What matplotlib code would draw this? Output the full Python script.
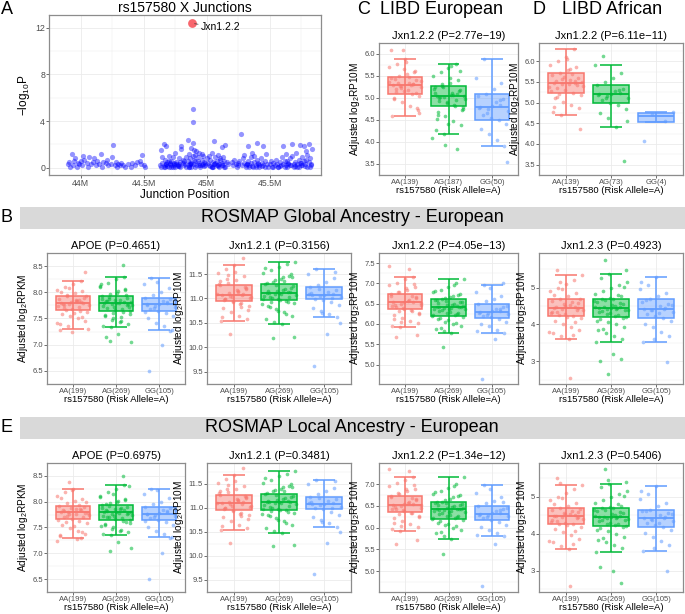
import matplotlib
matplotlib.use('Agg')
import matplotlib.pyplot as plt
import numpy as np
from matplotlib.patches import Rectangle
from matplotlib.colors import to_rgba

plt.rcParams['font.family'] = ['Liberation Sans', 'DejaVu Sans']
plt.rcParams['mathtext.default'] = 'regular'

# ---------------- Panel A data (junction position in Mb, -log10 P) ----------------
junction_pos = [
    43.90, 43.91, 43.92, 43.93, 43.94, 43.95, 43.96, 43.97, 43.98, 43.99, 44.00, 44.01, 44.02, 44.03, 44.05,
    44.06, 44.07, 44.08, 44.10, 44.11, 44.12, 44.13, 44.15, 44.16, 44.17, 44.18, 44.20, 44.21, 44.22, 44.24,
    44.25, 44.26, 44.27, 44.28, 44.29, 44.30, 44.31, 44.32, 44.34, 44.35, 44.38, 44.40, 44.41, 44.43, 44.45,
    44.47, 44.48, 44.49, 44.50, 44.51,
    44.63, 44.64, 44.65, 44.66, 44.66, 44.67, 44.68, 44.68, 44.69, 44.70, 44.70, 44.71, 44.72, 44.72, 44.73,
    44.74, 44.75, 44.75, 44.76, 44.77, 44.78, 44.78, 44.79, 44.80, 44.80, 44.81, 44.82, 44.82, 44.64, 44.67,
    44.69, 44.71, 44.73, 44.76, 44.79, 44.81, 44.65, 44.70, 44.74, 44.78,
    44.83, 44.84, 44.85, 44.85, 44.86, 44.86, 44.87, 44.87, 44.88, 44.88, 44.89, 44.89, 44.89, 44.90, 44.90,
    44.91, 44.91, 44.92, 44.93, 44.94, 44.94, 44.95, 44.96, 44.97, 44.97, 44.98, 44.99, 45.00, 44.86, 44.88,
    44.90, 44.92, 44.95, 44.98, 44.84, 44.87, 44.93, 44.96, 44.99, 44.89,
    45.01, 45.02, 45.02, 45.03, 45.04, 45.04, 45.05, 45.06, 45.06, 45.07, 45.08, 45.08, 45.09, 45.10, 45.10,
    45.11, 45.12, 45.12, 45.13, 45.14, 45.15, 45.15, 45.16, 45.17, 45.03, 45.05, 45.07, 45.09, 45.11, 45.13,
    45.20, 45.21, 45.22, 45.23, 45.24, 45.25, 45.26, 45.27, 45.28, 45.29, 45.30, 45.30, 45.31, 45.32, 45.33,
    45.33, 45.34, 45.35, 45.35, 45.36, 45.37, 45.38, 45.38, 45.39, 45.40, 45.40, 45.41, 45.42, 45.43, 45.44,
    45.45, 45.45, 45.46, 45.47, 45.48, 45.49, 45.31, 45.36, 45.41, 45.46,
    45.50, 45.51, 45.52, 45.53, 45.54, 45.55, 45.56, 45.57, 45.58, 45.59, 45.60, 45.61, 45.61, 45.62, 45.63,
    45.64, 45.65, 45.66, 45.67, 45.68, 45.68, 45.69, 45.70, 45.71, 45.72, 45.73, 45.74, 45.74, 45.75, 45.76,
    45.77, 45.77, 45.78, 45.79, 45.80, 45.81, 45.81, 45.82, 45.83, 45.84, 45.62, 45.66, 45.70, 45.75, 45.79,
    45.83, 45.58, 45.64, 45.72, 45.80,
    44.67, 44.72, 44.77, 44.86, 44.91, 44.96, 45.04, 45.09, 45.14, 45.25, 45.34, 45.39, 45.44, 45.53, 45.57,
    45.63, 45.69, 45.73, 45.78, 45.82, 44.68, 44.74, 44.88, 44.94, 45.06, 45.12, 45.32, 45.42, 45.65, 45.76,
]
junction_logp = [
    0.3, 0.5, 0.1, 1.2, 0.2, 0.6, 0.8, 0.1, 0.4, 0.3, 0.6, 0.2, 1.0, 0.7, 0.4,
    0.1, 0.9, 0.3, 0.5, 0.8, 0.2, 0.6, 0.3, 1.2, 0.1, 0.5, 0.4, 0.7, 0.2, 0.3,
    0.9, 1.94, 0.2, 0.5, 0.1, 0.3, 0.2, 0.4, 0.2, 0.1, 0.3, 0.1, 0.4, 0.2, 0.5,
    0.6, 0.3, 1.1, 0.2, 0.1,
    0.2, 1.5, 0.4, 2.08, 0.1, 0.7, 1.9, 0.3, 0.5, 0.1, 1.0, 0.3, 0.6, 0.2, 0.9,
    0.4, 0.1, 1.3, 0.5, 0.2, 0.8, 0.3, 0.1, 1.9, 1.6, 0.4, 0.2, 0.6, 0.05, 0.25,
    0.15, 0.45, 0.1, 0.35, 0.5, 0.7, 0.9, 0.6, 0.3, 0.15,
    0.3, 0.1, 2.4, 0.6, 0.2, 1.2, 0.4, 0.8, 1.7, 0.1, 5.06, 3.94, 2.1, 1.5, 0.3,
    1.1, 0.6, 0.2, 0.9, 0.4, 1.3, 0.1, 0.7, 0.3, 1.0, 0.5, 0.2, 0.8, 0.05, 0.4,
    0.7, 1.4, 0.25, 0.15, 0.9, 0.35, 0.6, 1.2, 0.45, 1.0,
    0.4, 1.0, 0.2, 0.7, 1.3, 0.1, 0.5, 2.3, 0.3, 0.9, 0.2, 0.6, 1.1, 0.3, 0.1,
    0.8, 1.77, 0.4, 0.2, 0.6, 1.94, 0.1, 0.5, 0.3, 0.15, 0.05, 0.45, 0.25, 0.65, 0.9,
    0.5, 0.2, 0.7, 0.3, 0.1, 0.4, 0.6, 2.9, 0.2, 0.8, 0.4, 1.1, 0.1, 0.3, 1.86,
    0.6, 0.2, 0.9, 0.4, 1.3, 0.1, 0.5, 1.0, 0.2, 2.14, 0.7, 0.3, 0.1, 0.8, 0.4,
    1.86, 0.2, 0.6, 1.2, 0.3, 0.1, 0.25, 0.15, 0.45, 0.05,
    0.3, 0.6, 0.1, 0.4, 0.2, 0.7, 0.3, 0.1, 0.5, 0.2, 0.9, 1.86, 0.3, 0.6, 1.2,
    0.1, 0.4, 0.8, 0.2, 2.06, 1.0, 0.3, 0.5, 1.3, 0.1, 0.7, 1.94, 0.4, 0.2, 0.9,
    1.86, 0.6, 0.3, 1.4, 0.1, 2.06, 0.5, 0.8, 0.2, 1.6, 0.05, 0.25, 0.15, 0.45, 0.65,
    0.35, 0.15, 0.55, 0.35, 1.1,
    0.05, 0.1, 0.15, 0.05, 0.1, 0.2, 0.05, 0.15, 0.1, 0.2, 0.05, 0.1, 0.15, 0.1, 0.05,
    0.2, 0.1, 0.05, 0.15, 0.1, 0.3, 0.25, 0.35, 0.2, 0.3, 0.25, 0.3, 0.2, 0.3, 0.25,
]
top_junction_name = "Jxn1.2.2"
top_junction_pos = 44.885
top_junction_logp = 12.4
a_xticks = [44.0, 44.5, 45.0, 45.5]
a_xticklabels = ["44M", "44.5M", "45M", "45.5M"]
a_yticks = [0, 4, 8, 12]

# ---------------- Box panels ----------------
genotypes = ["AA", "AG", "GG"]
rosmap_counts = [199, 269, 105]
libd_eur_counts = [139, 187, 50]
libd_afr_counts = [139, 73, 4]

# stats: [q1, median, q3, whisker_low, whisker_high]
C_stats = [[5.10, 5.30, 5.48, 4.58, 5.88], [4.82, 5.05, 5.28, 4.18, 5.78], [4.50, 4.80, 5.10, 3.92, 5.88]]
C_AA = [5.30, 5.32, 5.28, 5.25, 5.35, 5.20, 5.40, 5.15, 5.45, 5.10, 5.50, 5.05, 5.55, 4.98, 5.62, 4.90, 5.70, 4.82,
        5.78, 4.72, 5.88, 4.58, 5.31, 5.27, 5.38, 5.18, 5.43, 5.12, 6.10, 6.08, 5.29, 5.33, 4.65, 5.82, 5.00, 5.58,
        5.22, 5.36, 5.47, 5.13, 4.78, 5.66]
C_AG = [5.05, 5.08, 5.02, 4.98, 5.12, 4.93, 5.18, 4.88, 5.24, 4.82, 5.28, 4.76, 5.34, 4.68, 5.42, 4.58, 5.50, 4.48,
        5.58, 4.38, 5.68, 4.28, 5.78, 4.18, 5.04, 5.07, 5.00, 5.15, 4.90, 5.21, 4.85, 5.31, 4.72, 5.46, 4.52, 3.85,
        3.93, 4.10, 5.06, 5.03, 5.62, 4.42, 5.11, 4.95, 5.26, 4.80, 5.72, 4.62]
C_GG = [4.80, 4.84, 4.76, 4.70, 4.90, 4.62, 4.98, 4.55, 5.05, 4.50, 5.10, 4.42, 5.20, 4.30, 5.35, 4.18, 5.45, 4.05,
        5.88, 3.92, 4.82, 4.78, 4.95, 4.66, 3.55]

D_stats = [[5.22, 5.48, 5.72, 4.70, 6.30], [4.98, 5.20, 5.42, 4.40, 5.90], [4.53, 4.67, 4.74, 4.53, 4.78]]
D_AA = [5.48, 5.51, 5.45, 5.40, 5.55, 5.35, 5.60, 5.30, 5.66, 5.24, 5.72, 5.18, 5.78, 5.10, 5.85, 5.02, 5.92, 4.95,
        6.00, 4.86, 6.10, 4.78, 6.30, 4.70, 5.49, 5.46, 5.52, 5.42, 5.63, 5.28, 5.70, 5.20, 4.35, 6.05, 4.90, 5.47,
        5.58, 5.37, 5.80, 5.14]
D_AG = [5.20, 5.23, 5.17, 5.12, 5.28, 5.06, 5.34, 5.00, 5.42, 4.95, 5.50, 4.85, 5.60, 4.75, 5.72, 4.62, 5.90, 4.40,
        6.12, 3.58, 5.21, 5.19, 5.30, 5.10, 4.55]
D_GG = [4.08, 4.55, 4.72, 4.78]

B_APOE_stats = [[7.66, 7.80, 7.92, 7.30, 8.22], [7.65, 7.80, 7.93, 7.33, 8.30], [7.65, 7.77, 7.90, 7.28, 8.27]]
B_APOE_AA = [7.80, 7.82, 7.78, 7.75, 7.85, 7.70, 7.90, 7.68, 7.88, 7.72, 7.95, 7.62, 7.98, 7.58, 8.02, 7.55, 8.05,
             7.50, 8.10, 7.45, 8.15, 7.40, 8.22, 7.35, 7.30, 7.83, 7.77, 7.79, 7.81, 7.74, 7.86, 7.66, 7.92, 7.60,
             8.00, 7.52, 8.08, 7.42, 7.84, 7.76, 8.38, 7.25, 7.28, 7.64, 7.93]
B_APOE_AG = [7.80, 7.82, 7.78, 7.75, 7.86, 7.70, 7.90, 7.66, 7.93, 7.62, 7.97, 7.58, 8.02, 7.54, 8.06, 7.50, 8.12,
             7.45, 8.18, 7.40, 8.25, 7.36, 8.30, 7.33, 7.81, 7.79, 7.84, 7.76, 7.72, 7.88, 7.68, 7.91, 7.64, 7.99,
             7.56, 8.04, 7.48, 8.10, 7.43, 7.83, 7.77, 7.85, 7.73, 8.53, 7.08, 7.06, 7.20, 7.15, 7.95, 7.60, 8.15,
             7.52, 7.87, 7.71, 7.80]
B_APOE_GG = [7.77, 7.80, 7.74, 7.72, 7.84, 7.68, 7.88, 7.65, 7.90, 7.60, 7.95, 7.55, 8.00, 7.50, 8.08, 7.42, 8.15,
             7.35, 8.27, 7.28, 7.78, 7.76, 7.82, 7.70, 7.86, 7.00, 6.50, 7.27, 8.20, 7.62]

B_J121_stats = [[10.95, 11.08, 11.27, 10.53, 11.68], [10.97, 11.12, 11.29, 10.48, 11.75], [10.98, 11.08, 11.23, 10.63, 11.60]]
B_J121_AA = [11.08, 11.10, 11.05, 11.02, 11.15, 10.98, 11.20, 10.95, 11.27, 10.90, 11.32, 10.85, 11.38, 10.80, 11.45,
             10.72, 11.52, 10.65, 11.60, 10.58, 11.68, 10.53, 11.07, 11.12, 11.00, 11.18, 10.96, 11.24, 11.03, 11.30,
             10.88, 11.40, 10.76, 11.55, 10.62, 11.82, 10.27, 11.09, 11.14, 10.99, 11.22, 10.93, 11.35, 10.83, 11.48]
B_J121_AG = [11.12, 11.14, 11.10, 11.07, 11.18, 11.02, 11.22, 10.99, 11.29, 10.95, 11.34, 10.90, 11.40, 10.85, 11.46,
             10.78, 11.52, 10.72, 11.58, 10.65, 11.65, 10.58, 11.70, 10.52, 11.75, 10.48, 11.11, 11.13, 11.16, 11.05,
             11.20, 11.00, 11.25, 10.97, 11.31, 10.92, 11.37, 10.88, 11.43, 10.82, 11.50, 10.75, 11.62, 10.68, 10.20,
             10.22, 11.09, 11.15, 11.04, 11.27, 10.98, 11.35, 10.93, 11.44, 11.12]
B_J121_GG = [11.08, 11.10, 11.05, 11.02, 11.14, 10.99, 11.18, 10.96, 11.23, 10.92, 11.28, 10.86, 11.34, 10.80, 11.42,
             10.74, 11.50, 10.68, 11.60, 10.63, 11.07, 11.12, 11.00, 11.20, 10.50, 10.27, 9.62, 11.55, 10.70, 11.09]

B_J122_stats = [[6.37, 6.53, 6.73, 5.92, 7.15], [6.20, 6.42, 6.62, 5.77, 7.12], [6.15, 6.30, 6.50, 5.78, 6.97]]
B_J122_AA = [6.53, 6.55, 6.50, 6.46, 6.60, 6.42, 6.66, 6.38, 6.73, 6.33, 6.78, 6.28, 6.84, 6.22, 6.90, 6.15, 6.96,
             6.08, 7.02, 6.02, 7.10, 5.96, 7.15, 5.92, 6.52, 6.57, 6.48, 6.63, 6.40, 6.70, 6.35, 6.80, 6.25, 6.88,
             6.12, 6.99, 6.05, 7.42, 7.35, 5.68, 5.72, 6.54, 6.44, 6.68, 6.31]
B_J122_AG = [6.42, 6.44, 6.40, 6.36, 6.48, 6.32, 6.53, 6.27, 6.58, 6.22, 6.62, 6.18, 6.67, 6.12, 6.72, 6.06, 6.78,
             6.00, 6.85, 5.94, 6.92, 5.88, 7.00, 5.82, 7.12, 5.77, 6.41, 6.43, 6.46, 6.38, 6.50, 6.34, 6.55, 6.30,
             6.60, 6.25, 6.65, 6.20, 6.70, 6.15, 6.75, 6.09, 6.82, 6.03, 5.43, 6.45, 6.39, 6.52, 6.28, 6.57, 6.23,
             6.95, 5.90, 6.42, 6.37]
B_J122_GG = [6.30, 6.32, 6.28, 6.24, 6.36, 6.20, 6.42, 6.16, 6.50, 6.12, 6.56, 6.06, 6.62, 6.00, 6.70, 5.94, 6.80,
             5.86, 6.97, 5.78, 6.31, 6.27, 6.38, 6.22, 6.45, 5.63, 4.65, 7.02, 6.88, 5.82]

B_J123_stats = [[4.23, 4.45, 4.70, 3.60, 5.33], [4.20, 4.45, 4.70, 3.52, 5.38], [4.17, 4.42, 4.68, 3.53, 5.28]]
B_J123_AA = [4.45, 4.48, 4.42, 4.38, 4.52, 4.33, 4.58, 4.28, 4.64, 4.23, 4.70, 4.17, 4.76, 4.10, 4.84, 4.02, 4.92,
             3.94, 5.00, 3.85, 5.10, 3.76, 5.20, 3.68, 5.33, 3.60, 4.46, 4.40, 4.55, 4.30, 4.62, 4.25, 4.68, 4.20,
             4.80, 4.06, 4.96, 3.80, 2.55, 5.48, 4.44, 4.50, 4.35, 3.72, 5.15]
B_J123_AG = [4.45, 4.47, 4.43, 4.40, 4.50, 4.36, 4.55, 4.30, 4.60, 4.25, 4.65, 4.20, 4.70, 4.14, 4.76, 4.07, 4.83,
             4.00, 4.90, 3.92, 4.98, 3.84, 5.06, 3.76, 5.15, 3.68, 5.25, 3.60, 5.38, 3.52, 4.44, 4.46, 4.38, 4.52,
             4.33, 4.58, 4.27, 4.63, 4.22, 4.68, 4.17, 4.73, 4.10, 4.80, 5.75, 5.48, 3.20, 3.00, 3.05, 2.65, 4.48,
             4.41, 3.88, 5.02, 4.45]
B_J123_GG = [4.42, 4.45, 4.38, 4.34, 4.50, 4.28, 4.56, 4.22, 4.62, 4.17, 4.68, 4.10, 4.76, 4.02, 4.86, 3.92, 4.96,
             3.80, 5.08, 3.68, 5.28, 3.53, 4.43, 4.40, 4.53, 4.30, 4.65, 2.97, 3.60, 5.15]

E_APOE_stats = [[7.67, 7.80, 7.92, 7.30, 8.25], [7.65, 7.80, 7.93, 7.35, 8.32], [7.65, 7.77, 7.90, 7.32, 8.25]]
E_APOE_AA = [7.80, 7.83, 7.77, 7.74, 7.86, 7.71, 7.90, 7.67, 7.92, 7.63, 7.97, 7.58, 8.02, 7.54, 8.06, 7.49, 8.12,
             7.44, 8.18, 7.38, 8.25, 7.34, 7.30, 7.81, 7.79, 7.76, 7.84, 7.70, 7.88, 7.65, 7.94, 7.60, 8.00, 7.52,
             8.08, 7.42, 8.38, 7.24, 7.27, 7.82, 7.78, 8.22, 7.36, 7.85, 7.73]
E_APOE_AG = [7.80, 7.83, 7.77, 7.74, 7.86, 7.70, 7.90, 7.66, 7.93, 7.62, 7.97, 7.58, 8.02, 7.54, 8.06, 7.50, 8.12,
             7.46, 8.18, 7.41, 8.25, 7.37, 8.32, 7.35, 7.81, 7.79, 7.84, 7.76, 7.72, 7.88, 7.68, 7.91, 7.64, 7.99,
             7.56, 8.04, 7.48, 8.10, 7.43, 7.82, 7.78, 7.85, 7.73, 8.50, 7.05, 7.10, 7.22, 7.95, 7.60, 8.15, 7.52,
             7.87, 7.71, 8.30, 7.80]
E_APOE_GG = [7.77, 7.80, 7.74, 7.72, 7.84, 7.68, 7.88, 7.65, 7.90, 7.60, 7.95, 7.55, 8.00, 7.50, 8.08, 7.44, 8.15,
             7.38, 8.25, 7.32, 7.78, 7.76, 7.82, 7.70, 7.86, 7.00, 6.50, 7.30, 8.22, 7.62]

E_J121_stats = [[10.95, 11.10, 11.27, 10.53, 11.68], [10.95, 11.12, 11.28, 10.47, 11.77], [10.97, 11.08, 11.22, 10.61, 11.58]]
E_J121_AA = [11.10, 11.12, 11.07, 11.03, 11.16, 10.99, 11.21, 10.95, 11.27, 10.90, 11.32, 10.85, 11.38, 10.80, 11.45,
             10.72, 11.52, 10.65, 11.60, 10.58, 11.68, 10.53, 11.08, 11.13, 11.01, 11.19, 10.97, 11.24, 11.04, 11.30,
             10.88, 11.40, 10.76, 11.55, 10.62, 11.82, 10.27, 11.09, 11.15, 11.00, 11.22, 10.93, 11.35, 10.83, 11.48]
E_J121_AG = [11.12, 11.14, 11.10, 11.07, 11.18, 11.02, 11.22, 10.98, 11.28, 10.95, 11.34, 10.90, 11.40, 10.85, 11.46,
             10.78, 11.52, 10.72, 11.58, 10.65, 11.65, 10.58, 11.70, 10.51, 11.77, 10.47, 11.11, 11.13, 11.16, 11.05,
             11.20, 11.00, 11.25, 10.96, 11.31, 10.92, 11.37, 10.88, 11.43, 10.82, 11.50, 10.75, 11.62, 10.68, 10.20,
             10.22, 11.09, 11.15, 11.04, 11.27, 10.98, 11.35, 10.93, 11.44, 11.12]
E_J121_GG = [11.08, 11.10, 11.05, 11.02, 11.14, 10.99, 11.18, 10.97, 11.22, 10.92, 11.28, 10.86, 11.34, 10.80, 11.42,
             10.74, 11.50, 10.68, 11.58, 10.61, 11.07, 11.12, 11.00, 11.20, 10.50, 10.27, 9.62, 11.55, 10.70, 11.09]

E_J122_stats = [[6.37, 6.53, 6.73, 5.92, 7.17], [6.20, 6.42, 6.60, 5.75, 7.17], [6.17, 6.32, 6.50, 5.80, 6.98]]
E_J122_AA = [6.53, 6.55, 6.50, 6.46, 6.60, 6.42, 6.66, 6.38, 6.73, 6.33, 6.78, 6.28, 6.84, 6.22, 6.90, 6.15, 6.96,
             6.08, 7.02, 6.02, 7.10, 5.96, 7.17, 5.92, 6.52, 6.57, 6.48, 6.63, 6.40, 6.70, 6.35, 6.80, 6.25, 6.88,
             6.12, 6.99, 6.05, 7.35, 7.30, 5.63, 5.72, 6.54, 6.44, 6.68, 6.31]
E_J122_AG = [6.42, 6.44, 6.40, 6.36, 6.48, 6.32, 6.53, 6.27, 6.58, 6.22, 6.60, 6.18, 6.66, 6.12, 6.72, 6.06, 6.78,
             6.00, 6.85, 5.94, 6.92, 5.88, 7.00, 5.82, 7.17, 5.75, 6.41, 6.43, 6.46, 6.38, 6.50, 6.34, 6.55, 6.30,
             6.59, 6.25, 6.64, 6.20, 6.70, 6.15, 6.75, 6.09, 6.82, 6.03, 5.40, 6.45, 6.39, 6.52, 6.28, 6.57, 6.23,
             6.95, 5.90, 6.42, 6.37]
E_J122_GG = [6.32, 6.34, 6.30, 6.26, 6.38, 6.22, 6.43, 6.18, 6.50, 6.13, 6.56, 6.07, 6.62, 6.01, 6.70, 5.95, 6.80,
             5.87, 6.98, 5.80, 6.33, 6.29, 6.40, 6.24, 6.46, 5.63, 4.65, 6.60, 6.88, 5.84]

E_J123_stats = [[4.25, 4.47, 4.68, 3.58, 5.32], [4.20, 4.45, 4.70, 3.50, 5.33], [4.17, 4.42, 4.65, 3.52, 5.30]]
E_J123_AA = [4.47, 4.50, 4.44, 4.40, 4.54, 4.35, 4.59, 4.30, 4.64, 4.25, 4.68, 4.19, 4.75, 4.12, 4.83, 4.04, 4.92,
             3.95, 5.00, 3.86, 5.10, 3.76, 5.20, 3.67, 5.32, 3.58, 4.48, 4.42, 4.56, 4.32, 4.62, 4.27, 4.66, 4.22,
             4.80, 4.08, 4.96, 3.80, 2.58, 5.50, 4.46, 4.52, 4.37, 3.72, 5.38]
E_J123_AG = [4.45, 4.47, 4.43, 4.40, 4.50, 4.36, 4.55, 4.30, 4.60, 4.25, 4.65, 4.20, 4.70, 4.14, 4.76, 4.07, 4.83,
             4.00, 4.90, 3.92, 4.98, 3.84, 5.06, 3.76, 5.15, 3.68, 5.25, 3.60, 5.33, 3.50, 4.44, 4.46, 4.38, 4.52,
             4.33, 4.58, 4.27, 4.63, 4.22, 4.68, 4.17, 4.73, 4.10, 4.80, 5.75, 5.40, 3.00, 3.10, 2.67, 5.45, 4.48,
             4.41, 3.88, 5.02, 4.45]
E_J123_GG = [4.42, 4.45, 4.38, 4.34, 4.50, 4.28, 4.56, 4.22, 4.62, 4.17, 4.65, 4.10, 4.74, 4.02, 4.84, 3.92, 4.94,
             3.80, 5.06, 3.68, 5.30, 3.52, 4.43, 4.40, 4.53, 4.30, 4.60, 2.98, 3.60, 5.15]

# ---------------- Layout ----------------
W, H = 685, 614
fig = plt.figure(figsize=(6.85, 6.14), dpi=100)
fig.patch.set_facecolor('white')

COLORS = ['#F8766D', '#00BA38', '#619CFF']
GRID = '#EBEBEB'
BORDER = '#8C8C8C'
TICKC = '#4D4D4D'


def ax_px(l, t, r, b):
    return fig.add_axes([l / W, 1 - b / H, (r - l) / W, (b - t) / H])


def ftext(x, y, s, **kw):
    fig.text(x / W, 1 - y / H, s, **kw)


def style_axes(ax):
    for sp in ax.spines.values():
        sp.set_color(BORDER)
        sp.set_linewidth(0.9)
    ax.tick_params(axis='both', which='major', length=2, width=0.5, color='#333333',
                   labelcolor=TICKC, labelsize=5.5, pad=0.8)
    ax.tick_params(axis='both', which='minor', length=0)
    ax.set_axisbelow(True)


def box_panel(rect, title, ylabel, ylim, yticks, yfmt, counts, stats, groups):
    ax = ax_px(*rect)
    style_axes(ax)
    ax.set_xlim(0.4, 3.6)
    ax.set_ylim(*ylim)
    step = yticks[1] - yticks[0]
    minors = [yticks[0] - step / 2] + [t + step / 2 for t in yticks]
    ax.set_yticks(yticks)
    ax.set_yticklabels([yfmt % t for t in yticks])
    ax.set_yticks(minors, minor=True)
    ax.set_xticks([1, 2, 3])
    ax.set_xticklabels(['%s(%d)' % (g, n) for g, n in zip(genotypes, counts)])
    ax.grid(True, which='major', color=GRID, lw=0.6)
    ax.grid(True, which='minor', axis='y', color=GRID, lw=0.35)
    for i, (vals, st, c) in enumerate(zip(groups, stats, COLORS)):
        x0 = i + 1
        k = np.arange(len(vals))
        off = ((k * 0.6180339887 + 0.137) % 1.0 - 0.5) * 0.76
        ax.scatter(x0 + off, vals, s=7, color=c, alpha=0.55, lw=0, zorder=2)
        q1, med, q3, lo, hi = st
        ax.vlines(x0, lo, hi, color=c, lw=1.1, zorder=3)
        ax.hlines([lo, hi], x0 - 0.25, x0 + 0.25, color=c, lw=1.1, zorder=3)
        ax.add_patch(Rectangle((x0 - 0.4, q1), 0.8, q3 - q1, facecolor=to_rgba(c, 0.45),
                               edgecolor=c, lw=1.1, zorder=4))
        ax.hlines(med, x0 - 0.4, x0 + 0.4, color=c, lw=1.3, zorder=5)
    ax.set_title(title, fontsize=8, pad=3)
    ax.set_ylabel(ylabel, fontsize=7.2, labelpad=1.5)
    ax.set_xlabel('rs157580 (Risk Allele=A)', fontsize=6.8, labelpad=0)
    return ax


# ---------------- Panel A ----------------
axA = ax_px(49, 15, 321, 175)
style_axes(axA)
axA.set_xlim(43.815, 45.908)
axA.set_ylim(-0.62, 13.1)
axA.set_xticks(a_xticks)
axA.set_xticklabels(a_xticklabels)
axA.set_xticks([43.75 + 0.5 * i for i in range(5)], minor=True)
axA.set_yticks(a_yticks)
axA.set_yticks([2, 6, 10], minor=True)
axA.tick_params(axis='both', which='major', labelsize=6.3)
axA.grid(True, which='major', color=GRID, lw=0.6)
axA.grid(True, which='minor', color=GRID, lw=0.35)
axA.scatter(junction_pos, junction_logp, s=14, color='#0000FF', alpha=0.42, lw=0, zorder=2)
axA.scatter([top_junction_pos], [top_junction_logp], s=40, color='#F8666D', lw=0, zorder=3)
axA.annotate(top_junction_name, xy=(top_junction_pos + 0.02, top_junction_logp - 0.05),
             xytext=(top_junction_pos + 0.07, top_junction_logp - 0.35),
             fontsize=7.5, va='center', ha='left',
             arrowprops=dict(arrowstyle='-', lw=0.5, color='#333333', shrinkA=0, shrinkB=0))
axA.set_title('rs157580 X Junctions', fontsize=10, pad=2)
axA.set_xlabel('Junction Position', fontsize=8.5, labelpad=1)
axA.set_ylabel(r'$-$log$_{10}$P', fontsize=8.5, labelpad=2)

# ---------------- Panels C, D ----------------
box_panel((379, 43, 518, 175), 'Jxn1.2.2 (P=2.77e\u221219)', r'Adjusted log$_2$RP10M',
          (3.42, 6.23), [3.5, 4.0, 4.5, 5.0, 5.5, 6.0], '%.1f', libd_eur_counts, C_stats, [C_AA, C_AG, C_GG])
box_panel((539, 43, 683, 175), 'Jxn1.2.2 (P=6.11e\u221211)', r'Adjusted log$_2$RP10M',
          (3.44, 6.44), [3.5, 4.0, 4.5, 5.0, 5.5, 6.0], '%.1f', libd_afr_counts, D_stats, [D_AA, D_AG, D_GG])

# ---------------- Row B ----------------
rowB_top, rowB_bot = 253, 384
box_panel((47, rowB_top, 185, rowB_bot), 'APOE (P=0.4651)', r'Adjusted log$_2$RPKM',
          (6.4, 8.65), [6.5, 7.0, 7.5, 8.0, 8.5], '%.1f', rosmap_counts, B_APOE_stats,
          [B_APOE_AA, B_APOE_AG, B_APOE_GG])
box_panel((207, rowB_top, 351, rowB_bot), 'Jxn1.2.1 (P=0.3156)', r'Adjusted log$_2$RP10M',
          (9.49, 11.93), [9.5, 10.0, 10.5, 11.0, 11.5], '%.1f', rosmap_counts, B_J121_stats,
          [B_J121_AA, B_J121_AG, B_J121_GG])
box_panel((379, rowB_top, 518, rowB_bot), 'Jxn1.2.2 (P=4.05e\u221213)', r'Adjusted log$_2$RP10M',
          (4.52, 7.56), [5.0, 5.5, 6.0, 6.5, 7.0, 7.5], '%.1f', rosmap_counts, B_J122_stats,
          [B_J122_AA, B_J122_AG, B_J122_GG])
box_panel((539, rowB_top, 683, rowB_bot), 'Jxn1.2.3 (P=0.4923)', r'Adjusted log$_2$RP10M',
          (2.38, 5.94), [3, 4, 5], '%d', rosmap_counts, B_J123_stats,
          [B_J123_AA, B_J123_AG, B_J123_GG])

# ---------------- Row E ----------------
rowE_top, rowE_bot = 463, 592
box_panel((47, rowE_top, 185, rowE_bot), 'APOE (P=0.6975)', r'Adjusted log$_2$RPKM',
          (6.4, 8.63), [6.5, 7.0, 7.5, 8.0, 8.5], '%.1f', rosmap_counts, E_APOE_stats,
          [E_APOE_AA, E_APOE_AG, E_APOE_GG])
box_panel((207, rowE_top, 351, rowE_bot), 'Jxn1.2.1 (P=0.3481)', r'Adjusted log$_2$RP10M',
          (9.49, 11.93), [9.5, 10.0, 10.5, 11.0, 11.5], '%.1f', rosmap_counts, E_J121_stats,
          [E_J121_AA, E_J121_AG, E_J121_GG])
box_panel((379, rowE_top, 518, rowE_bot), 'Jxn1.2.2 (P=1.34e\u221212)', r'Adjusted log$_2$RP10M',
          (4.52, 7.49), [5.0, 5.5, 6.0, 6.5, 7.0], '%.1f', rosmap_counts, E_J122_stats,
          [E_J122_AA, E_J122_AG, E_J122_GG])
box_panel((539, rowE_top, 683, rowE_bot), 'Jxn1.2.3 (P=0.5406)', r'Adjusted log$_2$RP10M',
          (2.42, 5.91), [3, 4, 5], '%d', rosmap_counts, E_J123_stats,
          [E_J123_AA, E_J123_AG, E_J123_GG])

# ---------------- Banners and panel letters ----------------
for top, bot in [(207, 229), (417, 439)]:
    fig.patches.append(Rectangle((20 / W, 1 - bot / H), (W - 20) / W, (bot - top) / H,
                                 transform=fig.transFigure, facecolor='#D9D9D9', edgecolor='none', zorder=0))
ftext(352, 218, 'ROSMAP Global Ancestry - European', fontsize=13, ha='center', va='center')
ftext(352, 428, 'ROSMAP Local Ancestry - European', fontsize=13, ha='center', va='center')
ftext(1, 218, 'B', fontsize=13, ha='left', va='center')
ftext(1, 428, 'E', fontsize=13, ha='left', va='center')
ftext(1, 9, 'A', fontsize=13, ha='left', va='center')
ftext(357, 9, 'C', fontsize=13, ha='left', va='center')
ftext(380, 9, 'LIBD European', fontsize=13, ha='left', va='center')
ftext(533, 9, 'D', fontsize=13, ha='left', va='center')
ftext(562, 9, 'LIBD African', fontsize=13, ha='left', va='center')

fig.savefig('out.png', dpi=100)
